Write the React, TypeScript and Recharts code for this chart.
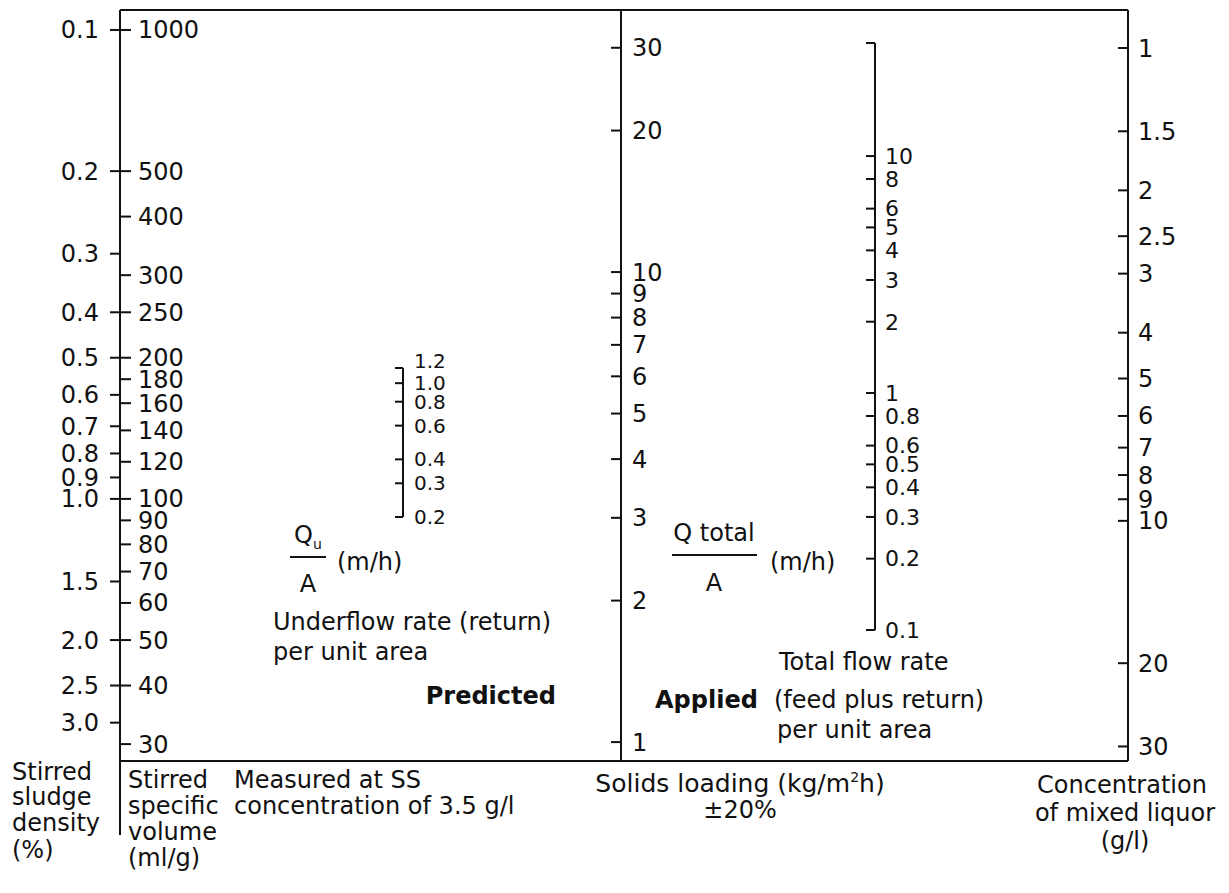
import React from "react";
import { ComposedChart, XAxis, YAxis } from "recharts";

// stirred specific volume (ml/g), right of the first line
const ssvTicks = [1000, 500, 400, 300, 250, 200, 180, 160, 140, 120, 100, 90, 80, 70, 60, 50, 40, 30];
// stirred sludge density (%), left of the same line (density = 100 / SSV)
const densityTicks = [0.1, 0.2, 0.3, 0.4, 0.5, 0.6, 0.7, 0.8, 0.9, 1.0, 1.5, 2.0, 2.5, 3.0];
// predicted underflow rate Qu/A (m/h)
const underflowTicks = [1.2, 1.0, 0.8, 0.6, 0.4, 0.3, 0.2];
// applied solids loading (kg/m2h)
const solidsTicks = [30, 20, 10, 9, 8, 7, 6, 5, 4, 3, 2, 1];
// total flow Qtotal/A (m/h), the top end mark is not labelled
const totalFlowTicks = [10, 8, 6, 5, 4, 3, 2, 1, 0.8, 0.6, 0.5, 0.4, 0.3, 0.2, 0.1];
const totalFlowEnd = 30;
// concentration of mixed liquor (g/l)
const mlssTicks = [1, 1.5, 2, 2.5, 3, 4, 5, 6, 7, 8, 9, 10, 20, 30];

// extents of each printed log line
const ssvDomain: [number, number] = [19.2, 1103];
const densityDomain: [number, number] = [100 / ssvDomain[1], 100 / ssvDomain[0]];
const underflowDomain: [number, number] = [0.2, 1.2];
const solidsDomain: [number, number] = [0.916, 36.1];
const totalFlowDomain: [number, number] = [0.1, totalFlowEnd];
const mlssDomain: [number, number] = [0.831, 32.2];

const INK = "#111";
const FONT = "'DejaVu Sans', sans-serif";
const LEFT_W = 130;
const RIGHT_W = 110;
const PAD = 20;

type Side = {
  domain: [number, number];
  ticks: number[];
  reversed?: boolean;
  labels: boolean;
  marks: boolean;
  tickSize: number;
  tickMargin: number;
  fontSize?: number;
  format?: (v: number) => string;
  tickEl?: any;
};

function renderSide(id: string, orientation: "left" | "right", s: Side, line: boolean) {
  const fmt = s.labels ? s.format ?? ((v: number) => String(v)) : () => "";
  return (
    <YAxis
      key={id}
      yAxisId={id}
      orientation={orientation}
      width={orientation === "left" ? LEFT_W : RIGHT_W}
      type="number"
      scale="log"
      domain={s.domain}
      allowDataOverflow
      reversed={s.reversed}
      ticks={s.ticks}
      interval={0}
      tickFormatter={fmt}
      tick={s.tickEl ?? { fill: INK, fontSize: s.fontSize ?? 24, fontFamily: FONT }}
      tickLine={s.marks ? { stroke: INK, strokeWidth: 2 } : false}
      axisLine={line ? { stroke: INK, strokeWidth: 2 } : false}
      tickSize={s.tickSize}
      tickMargin={s.tickMargin}
      stroke={INK}
    />
  );
}

function LogScale({ x, y0, y1, left, right }: { x: number; y0: number; y1: number; left: Side; right: Side }) {
  return (
    <div style={{ position: "absolute", left: x - LEFT_W, top: y0 - PAD }}>
      <ComposedChart
        width={LEFT_W + 1 + RIGHT_W}
        height={y1 - y0 + 2 * PAD}
        margin={{ top: PAD, bottom: PAD, left: 0, right: 0 }}
      >
        <XAxis type="number" domain={[0, 1]} hide />
        {renderSide("l", "left", left, true)}
        {renderSide("r", "right", right, false)}
      </ComposedChart>
    </div>
  );
}

const Txt = ({
  x,
  y,
  anchor = "start",
  bold = false,
  size = 24,
  children,
}: {
  x: number;
  y: number;
  anchor?: "start" | "middle" | "end";
  bold?: boolean;
  size?: number;
  children: React.ReactNode;
}) => (
  <div
    style={{
      position: "absolute",
      left: x,
      top: y,
      transform: `translate(${anchor === "middle" ? "-50%" : anchor === "end" ? "-100%" : "0"}, -50%)`,
      whiteSpace: "nowrap",
      fontFamily: FONT,
      fontSize: size,
      fontWeight: bold ? 700 : 400,
      color: INK,
      lineHeight: 1,
    }}
  >
    {children}
  </div>
);

const Rule = ({ x, y, w }: { x: number; y: number; w: number }) => (
  <div style={{ position: "absolute", left: x, top: y, width: w, height: 2, background: INK }} />
);

const oneDecimal = (v: number) => v.toFixed(1);

// the 1.2 label sits just above the top end of the short underflow line
const UnderflowTick = (props: any) => {
  const { x, y, payload, textAnchor } = props;
  const lift = payload.value === underflowDomain[1] ? -7 : 0;
  return (
    <text x={x} y={y + lift} dy="0.355em" textAnchor={textAnchor} fill={INK} fontSize={20} fontFamily={FONT}>
      {oneDecimal(payload.value)}
    </text>
  );
};

export default function App() {
  return (
    <div style={{ position: "absolute", left: 0, top: 0, width: 1229, height: 893, background: "#fff", overflow: "hidden" }}>
      {/* frame: top and bottom rules */}
      <div style={{ position: "absolute", left: 0, top: 0 }}>
        <ComposedChart width={1229} height={893} margin={{ top: 9, left: 120, right: 101, bottom: 131 }}>
          <XAxis
            xAxisId="bottom"
            type="number"
            domain={[0, 1]}
            orientation="bottom"
            height={1}
            tick={false}
            tickLine={false}
            axisLine={{ stroke: INK, strokeWidth: 2 }}
          />
          <XAxis
            xAxisId="top"
            type="number"
            domain={[0, 1]}
            orientation="top"
            height={1}
            tick={false}
            tickLine={false}
            axisLine={{ stroke: INK, strokeWidth: 2 }}
          />
          <YAxis type="number" domain={[0, 1]} hide />
        </ComposedChart>
      </div>

      <LogScale
        x={120}
        y0={10}
        y1={835}
        left={{
          domain: densityDomain,
          ticks: densityTicks,
          reversed: true,
          labels: true,
          marks: true,
          tickSize: 10,
          tickMargin: 11,
          format: (v) => (v >= 1 ? v.toFixed(1) : String(v)),
        }}
        right={{ domain: ssvDomain, ticks: ssvTicks, labels: true, marks: true, tickSize: 10, tickMargin: 7 }}
      />

      <LogScale
        x={403}
        y0={368}
        y1={517}
        left={{ domain: underflowDomain, ticks: underflowTicks, labels: false, marks: true, tickSize: 8, tickMargin: 0 }}
        right={{
          domain: underflowDomain,
          ticks: underflowTicks,
          labels: true,
          marks: false,
          tickSize: 4,
          tickMargin: 6,
          fontSize: 20,
          format: oneDecimal,
          tickEl: UnderflowTick,
        }}
      />

      <LogScale
        x={621}
        y0={10}
        y1={760}
        left={{ domain: solidsDomain, ticks: solidsTicks, labels: false, marks: true, tickSize: 10, tickMargin: 0 }}
        right={{ domain: solidsDomain, ticks: solidsTicks, labels: true, marks: false, tickSize: 3, tickMargin: 7 }}
      />

      <LogScale
        x={875}
        y0={43}
        y1={630}
        left={{
          domain: totalFlowDomain,
          ticks: [...totalFlowTicks, totalFlowEnd],
          labels: false,
          marks: true,
          tickSize: 9,
          tickMargin: 0,
        }}
        right={{
          domain: totalFlowDomain,
          ticks: totalFlowTicks,
          labels: true,
          marks: false,
          tickSize: 3,
          tickMargin: 6,
          fontSize: 22,
        }}
      />

      <LogScale
        x={1128}
        y0={10}
        y1={761}
        left={{ domain: mlssDomain, ticks: mlssTicks, reversed: true, labels: false, marks: true, tickSize: 10, tickMargin: 0 }}
        right={{ domain: mlssDomain, ticks: mlssTicks, reversed: true, labels: true, marks: false, tickSize: 3, tickMargin: 6 }}
      />

      {/* Qu / A */}
      <Txt x={308} y={537} anchor="middle">
        Q<sub style={{ fontSize: 14 }}>u</sub>
      </Txt>
      <Rule x={290} y={556} w={36} />
      <Txt x={308} y={584} anchor="middle">A</Txt>
      <Txt x={337} y={562}>(m/h)</Txt>
      <Txt x={273} y={622}>Underflow rate (return)</Txt>
      <Txt x={273} y={652}>per unit area</Txt>
      <Txt x={556} y={696} anchor="end" bold>Predicted</Txt>

      {/* Q total / A */}
      <Txt x={714} y={533} anchor="middle">Q total</Txt>
      <Rule x={672} y={554} w={85} />
      <Txt x={714} y={583} anchor="middle">A</Txt>
      <Txt x={770} y={562}>(m/h)</Txt>
      <Txt x={655} y={700} bold>Applied</Txt>
      <Txt x={779} y={662}>Total flow rate</Txt>
      <Txt x={774} y={700}>(feed plus return)</Txt>
      <Txt x={777} y={730}>per unit area</Txt>

      {/* bottom captions */}
      <Txt x={12} y={772}>Stirred</Txt>
      <Txt x={12} y={797}>sludge</Txt>
      <Txt x={12} y={823}>density</Txt>
      <Txt x={12} y={850}>(%)</Txt>

      <Txt x={128} y={780}>Stirred</Txt>
      <Txt x={128} y={806}>specific</Txt>
      <Txt x={128} y={832}>volume</Txt>
      <Txt x={128} y={858}>(ml/g)</Txt>

      <Txt x={234} y={780}>Measured at SS</Txt>
      <Txt x={234} y={806}>concentration of 3.5 g/l</Txt>

      <Txt x={740} y={783} anchor="middle" size={25}>
        Solids loading (kg/m<sup style={{ fontSize: 14 }}>2</sup>h)
      </Txt>
      <Txt x={740} y={810} anchor="middle">±20%</Txt>

      <Txt x={1122} y={785} anchor="middle">Concentration</Txt>
      <Txt x={1125} y={813} anchor="middle">of mixed liquor</Txt>
      <Txt x={1125} y={841} anchor="middle">(g/l)</Txt>
    </div>
  );
}
